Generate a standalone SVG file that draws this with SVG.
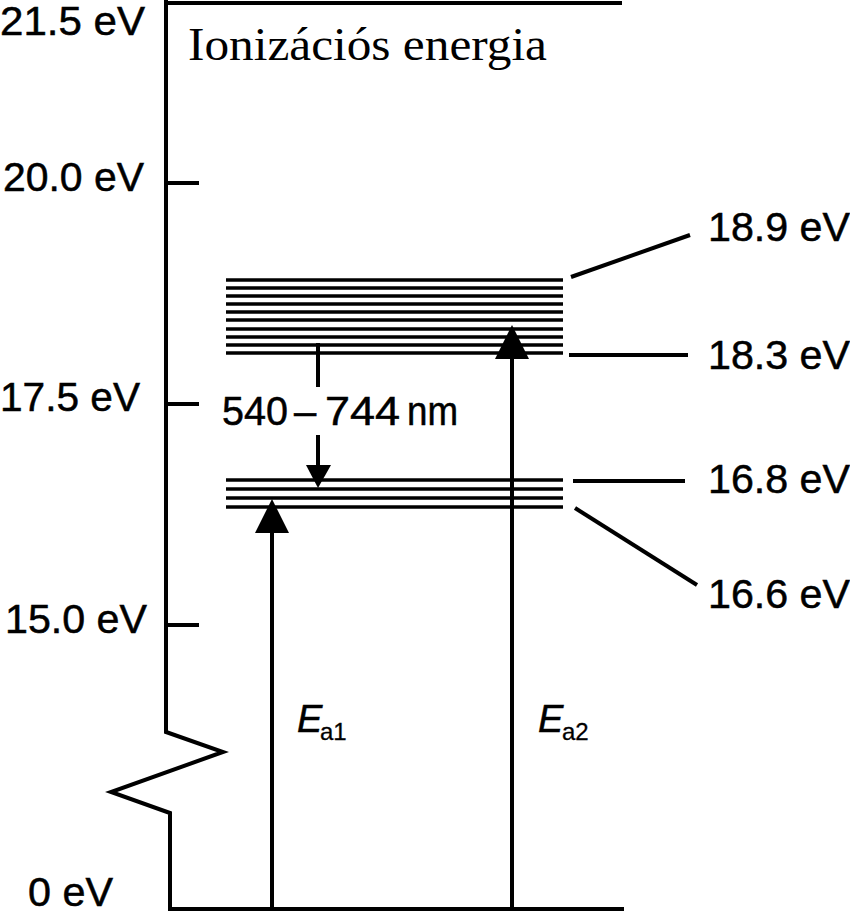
<svg xmlns="http://www.w3.org/2000/svg" width="850" height="913" viewBox="0 0 850 913">
<defs>
<style>
.ln{stroke:#000;stroke-width:4;fill:none;stroke-linecap:butt}
.lv{stroke:#000;stroke-width:3.4}
.lbl{font-family:"Liberation Sans",Arial,sans-serif;font-size:40px;fill:#000;stroke:#000;stroke-width:0.5}
.ital{font-family:"Liberation Sans",Arial,sans-serif;font-style:italic;font-size:38px;fill:#000;stroke:#000;stroke-width:0.5}
.sub{font-family:"Liberation Sans",Arial,sans-serif;font-size:24px;fill:#000;stroke:#000;stroke-width:0.3}
.hd{fill:#000;stroke:none}
</style>
</defs>
<rect width="850" height="913" fill="#fff"/>
<g id="axis">
<polyline class="ln" points="166,0 166,732 223,752 111,792 170,813 170,909 624,909"/>
<line class="ln" x1="166" y1="3" x2="622" y2="3"/>
<line class="ln" x1="166" y1="183" x2="199" y2="183"/>
<line class="ln" x1="166" y1="404" x2="199" y2="404"/>
<line class="ln" x1="166" y1="625" x2="199" y2="625"/>
<text class="lbl" x="0" y="35" textLength="145" lengthAdjust="spacingAndGlyphs">21.5 eV</text>
<text class="lbl" x="3" y="191" textLength="141" lengthAdjust="spacingAndGlyphs">20.0 eV</text>
<text class="lbl" x="0" y="411" textLength="140" lengthAdjust="spacingAndGlyphs">17.5 eV</text>
<text class="lbl" x="5" y="633" textLength="142" lengthAdjust="spacingAndGlyphs">15.0 eV</text>
<text class="lbl" x="28" y="906" font-size="42" textLength="85" lengthAdjust="spacingAndGlyphs">0 eV</text>
<text x="188" y="60" font-family="'Liberation Serif','Times New Roman',serif" font-size="46" textLength="359" lengthAdjust="spacingAndGlyphs">Ionizációs energia</text>
</g>
<g id="upper-band">
<line class="lv" x1="226" y1="280" x2="563" y2="280"/>
<line class="lv" x1="226" y1="288" x2="563" y2="288"/>
<line class="lv" x1="226" y1="296" x2="563" y2="296"/>
<line class="lv" x1="226" y1="304" x2="563" y2="304"/>
<line class="lv" x1="226" y1="312" x2="563" y2="312"/>
<line class="lv" x1="226" y1="320" x2="563" y2="320"/>
<line class="lv" x1="226" y1="329" x2="563" y2="329"/>
<line class="lv" x1="226" y1="337" x2="563" y2="337"/>
<line class="lv" x1="226" y1="345" x2="563" y2="345"/>
<line class="lv" x1="226" y1="353" x2="563" y2="353"/>
</g>
<g id="lower-band">
<line class="lv" x1="226" y1="480" x2="563" y2="480"/>
<line class="lv" x1="226" y1="489" x2="563" y2="489"/>
<line class="lv" x1="226" y1="498" x2="563" y2="498"/>
<line class="lv" x1="226" y1="507" x2="563" y2="507"/>
</g>
<g id="level-labels">
<text class="lbl" x="708" y="241" textLength="142" lengthAdjust="spacingAndGlyphs">18.9 eV</text>
<text class="lbl" x="708" y="369" textLength="142" lengthAdjust="spacingAndGlyphs">18.3 eV</text>
<text class="lbl" x="708" y="493" textLength="142" lengthAdjust="spacingAndGlyphs">16.8 eV</text>
<text class="lbl" x="708" y="608" textLength="142" lengthAdjust="spacingAndGlyphs">16.6 eV</text>
</g>
<g id="connectors">
<line class="ln" x1="571" y1="277" x2="690" y2="235"/>
<line class="ln" x1="569" y1="355" x2="688" y2="355"/>
<line class="ln" x1="573" y1="481" x2="685" y2="481"/>
<line class="ln" x1="575" y1="508" x2="697" y2="585"/>
<line class="ln" x1="272" y1="909" x2="272" y2="530"/>
<polygon class="hd" points="272,499 255,533 289,533"/>
<line class="ln" x1="512" y1="909" x2="512" y2="356"/>
<polygon class="hd" points="512,325 495,359 529,359"/>
<line class="ln" x1="318" y1="343" x2="318" y2="387"/>
<line class="ln" x1="318" y1="435" x2="318" y2="467"/>
<polygon class="hd" points="306,465 331,465 318,488"/>
</g>
<g id="labels">
<text class="lbl" y="425" font-size="38"><tspan x="222" textLength="66" lengthAdjust="spacingAndGlyphs">540</tspan><tspan x="294">–</tspan><tspan x="325" textLength="75" lengthAdjust="spacingAndGlyphs">744</tspan><tspan x="407" textLength="51" lengthAdjust="spacingAndGlyphs">nm</tspan></text>
<text class="ital" x="297" y="732">E</text><text class="sub" x="320" y="740">a1</text>
<text class="ital" x="538" y="732">E</text><text class="sub" x="562" y="740">a2</text>
</g>
</svg>
